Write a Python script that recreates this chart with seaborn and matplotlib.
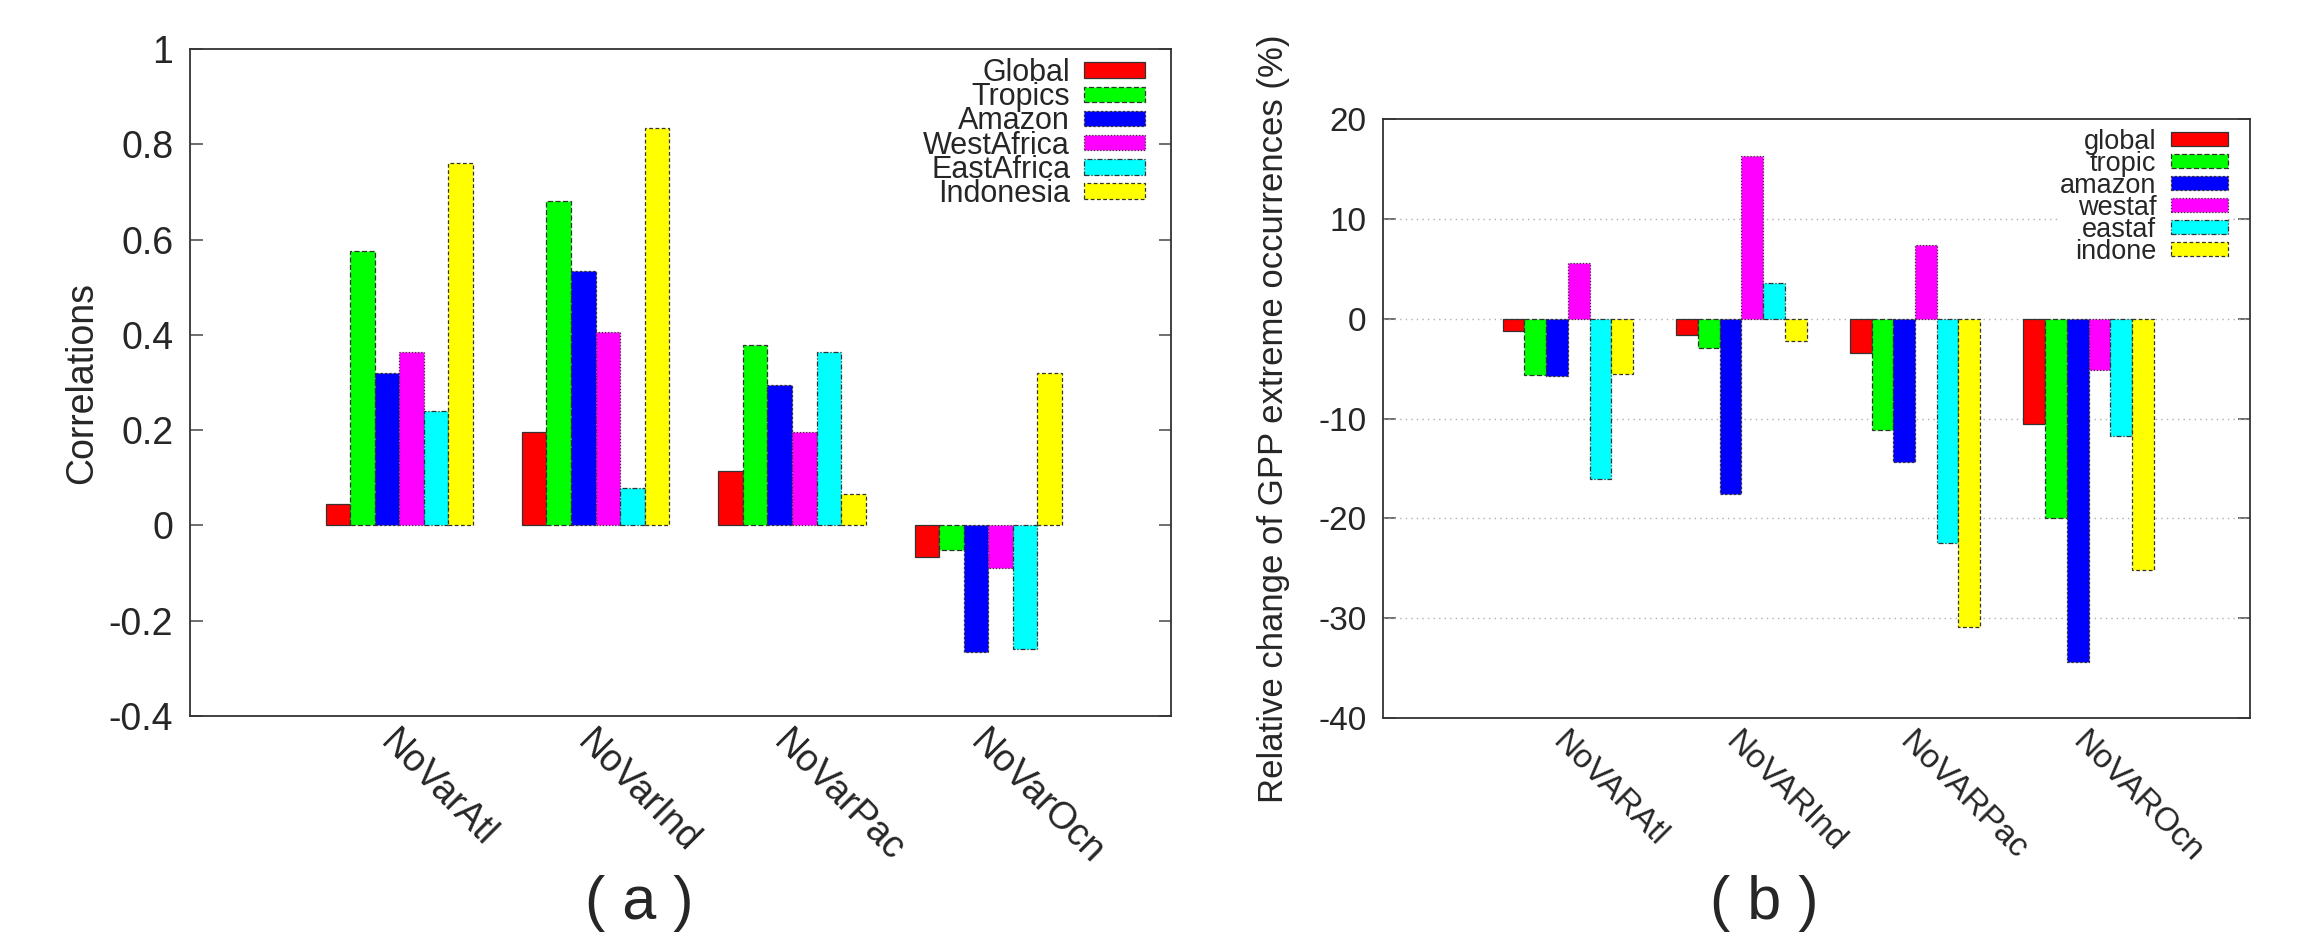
import matplotlib
matplotlib.use("Agg")
import matplotlib.pyplot as plt
import seaborn as sns
import pandas as pd
import numpy as np

# ---------------- data ----------------
groups_a = ["NoVarAtl", "NoVarInd", "NoVarPac", "NoVarOcn"]
series_a = ["Global", "Tropics", "Amazon", "WestAfrica", "EastAfrica", "Indonesia"]
global_a = [0.044, 0.196, 0.115, -0.066]
tropics_a = [0.575, 0.681, 0.379, -0.051]
amazon_a = [0.319, 0.535, 0.295, -0.265]
westafrica_a = [0.363, 0.406, 0.196, -0.090]
eastafrica_a = [0.241, 0.078, 0.364, -0.259]
indonesia_a = [0.760, 0.834, 0.065, 0.320]
yticks_a = [-0.4, -0.2, 0, 0.2, 0.4, 0.6, 0.8, 1]
yticklabels_a = ["-0.4", "-0.2", "0", "0.2", "0.4", "0.6", "0.8", "1"]

groups_b = ["NoVARAtl", "NoVARInd", "NoVARPac", "NoVAROcn"]
series_b = ["global", "tropic", "amazon", "westaf", "eastaf", "indone"]
global_b = [-1.25, -1.6, -3.47, -10.58]
tropic_b = [-5.6, -2.9, -11.18, -19.96]
amazon_b = [-5.7, -17.6, -14.35, -34.37]
westaf_b = [5.56, 16.26, 7.41, -5.14]
eastaf_b = [-16.1, 3.59, -22.47, -11.77]
indone_b = [-5.56, -2.27, -30.9, -25.16]
yticks_b = [-40, -30, -20, -10, 0, 10, 20]
yticklabels_b = ["-40", "-30", "-20", "-10", "0", "10", "20"]

colors = ["#ff0000", "#00ff00", "#0000ff", "#ff00ff", "#00ffff", "#ffff00"]
edge_styles = ["-", (0, (4, 2)), (0, (2, 1.5)), (0, (1, 1.5)), (0, (4, 1.5, 1, 1.5)), (0, (3, 2))]

# ---------------- style ----------------
sns.set_style("white")
plt.rcParams["font.family"] = ["Liberation Sans", "DejaVu Sans"]
plt.rcParams["axes.unicode_minus"] = False

fig = plt.figure(figsize=(23.1, 9.35), dpi=100)
W, H = 2310, 935
ax_a = fig.add_axes([190 / W, 1 - 716 / H, (1171 - 190) / W, (716 - 49) / H])
ax_b = fig.add_axes([1383 / W, 1 - 718 / H, (2250 - 1383) / W, (718 - 119) / H])


def build(groups, series, values):
    rows = []
    for s, vals in zip(series, values):
        for g, v in zip(groups, vals):
            rows.append({"group": g, "series": s, "value": v})
    return pd.DataFrame(rows)


df_a = build(groups_a, series_a, [global_a, tropics_a, amazon_a, westafrica_a, eastafrica_a, indonesia_a])
df_b = build(groups_b, series_b, [global_b, tropic_b, amazon_b, westaf_b, eastaf_b, indone_b])


def draw(ax, df, groups, series, yticks, yticklabels, ylim, ylabel,
         tickfs, xfs, ylabfs, ylab_x, legfs, hl, hh, htp, lsp, anchor, grid):
    sns.barplot(data=df, x="group", y="value", hue="series", order=groups,
                hue_order=series, palette=colors, width=0.75, saturation=1,
                edgecolor="#333333", linewidth=0.9, ax=ax, zorder=3)
    for cont, ls in zip(ax.containers, edge_styles):
        for p in cont.patches:
            p.set_linestyle(ls)
    ax.set_xlim(-1.065, 3.93)
    ax.set_ylim(*ylim)
    ax.set_yticks(yticks)
    ax.set_yticklabels(yticklabels, fontsize=tickfs)
    ax.set_xticks(range(len(groups)))
    ax.set_xticklabels(groups, fontsize=xfs, rotation=-45, ha="left", va="top",
                       rotation_mode="anchor")
    ax.tick_params(axis="x", length=0, pad=6)
    ax.tick_params(axis="y", direction="in", length=9, width=1.2, color="#555555",
                   left=True, right=True, pad=12)
    ax.set_xlabel("")
    ax.set_ylabel(ylabel, fontsize=ylabfs)
    ax.yaxis.set_label_coords(ylab_x, 0.5)
    for sp in ax.spines.values():
        sp.set_visible(True)
        sp.set_color("#333333")
        sp.set_linewidth(1.3)
    if grid:
        for y in yticks[1:-1]:
            ax.axhline(y, color="#b0b0b0", linestyle=(0, (1, 3)), linewidth=1.0, zorder=1)
    handles, labels = ax.get_legend_handles_labels()
    for h, ls in zip(handles, edge_styles):
        h.set_linestyle(ls)
    leg = ax.legend(handles, labels, loc="upper right", bbox_to_anchor=anchor,
                    bbox_transform=ax.transAxes, markerfirst=False, fontsize=legfs,
                    handlelength=hl, handleheight=hh, handletextpad=htp,
                    labelspacing=lsp, borderpad=0, borderaxespad=0,
                    frameon=True, fancybox=False, framealpha=1,
                    edgecolor="none", facecolor="white")
    leg.set_zorder(5)


draw(ax_a, df_a, groups_a, series_a, yticks_a, yticklabels_a, (-0.4, 1), "Correlations",
     27, 27, 27, -0.092, 22, 2.0, 0.4, 0.45, -0.19, (1 - 26 / 981, 1 - 9 / 667), False)
draw(ax_b, df_b, groups_b, series_b, yticks_b, yticklabels_b, (-40, 20),
     "Relative change of GPP extreme occurrences (%)",
     24, 24, 25, -0.107, 19.5, 2.1, 0.4, 0.55, -0.15, (1 - 22 / 867, 1 - 10 / 599), True)

fig.text(639 / W, 1 - 903 / H, "( a )", fontsize=44, ha="center", va="center")
fig.text(1764 / W, 1 - 903 / H, "( b )", fontsize=44, ha="center", va="center")

fig.savefig("out.png", dpi=100)
